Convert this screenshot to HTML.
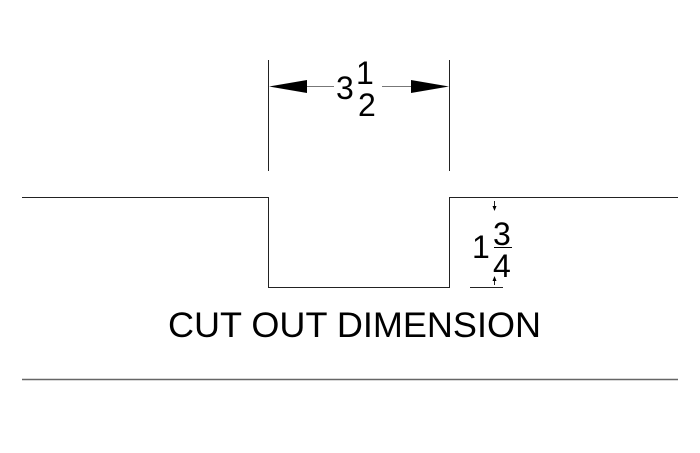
<!DOCTYPE html>
<html><head><meta charset="utf-8"><style>
html,body{margin:0;padding:0;background:#fff;width:700px;height:453px;overflow:hidden}
svg{display:block}
text{font-family:"Liberation Sans",sans-serif;fill:#000}
</style></head><body>
<svg width="700" height="453" viewBox="0 0 700 453" xmlns="http://www.w3.org/2000/svg">
<g stroke="#222" stroke-width="1" fill="none">
<polyline points="22,197.5 268.5,197.5 268.5,287.5 449.5,287.5 449.5,197.5 678,197.5"/>
<line x1="22" y1="379.5" x2="678" y2="379.5" stroke="#666" stroke-width="1.5"/>
<line x1="268.5" y1="60" x2="268.5" y2="171"/>
<line x1="449.5" y1="60" x2="449.5" y2="171"/>
<line x1="300" y1="86.5" x2="334" y2="86.5" stroke="#777"/>
<line x1="382" y1="86.5" x2="415" y2="86.5" stroke="#777"/>
<line x1="470" y1="287.5" x2="503" y2="287.5"/>
<line x1="494.5" y1="201" x2="494.5" y2="207"/>
<line x1="494.5" y1="279" x2="494.5" y2="285"/>
</g>
<polygon points="269,86.5 307,80 307,93" fill="#000"/>
<polygon points="449,86.5 411,80 411,93" fill="#000"/>
<polygon points="494.5,211 492.5,206 496.5,206" fill="#000"/>
<polygon points="494.5,276 492.5,281 496.5,281" fill="#000"/>
<text x="336" y="99" font-size="32">3</text>
<text x="356" y="84" font-size="32">1</text>
<text x="358" y="116" font-size="32">2</text>
<text x="472" y="258" font-size="32">1</text>
<text x="493" y="245" font-size="32">3</text>
<line x1="494" y1="247.5" x2="512" y2="247.5" stroke="#000" stroke-width="1"/>
<text x="493" y="277" font-size="32">4</text>
<text x="168" y="337" font-size="35" textLength="373" lengthAdjust="spacingAndGlyphs">CUT OUT DIMENSION</text>
</svg>
</body></html>
